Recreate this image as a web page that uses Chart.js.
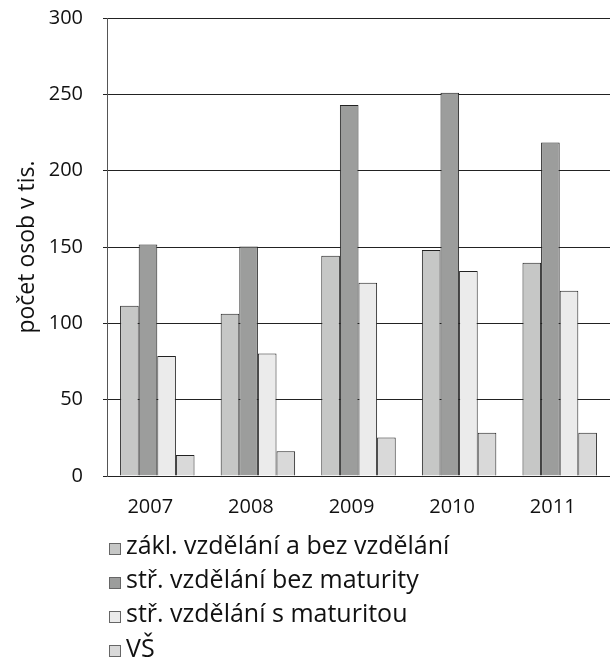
<!DOCTYPE html>
<html>
<head>
<meta charset="utf-8">
<script src="https://cdn.jsdelivr.net/npm/chart.js@4/dist/chart.umd.min.js"></script>
<style>
  html, body { margin: 0; padding: 0; background: #fff; }
  #wrap { position: relative; width: 610px; height: 659px; overflow: hidden; }
  #legend { position: absolute; left: 109px; top: 527px; font-family: "Open Sans", sans-serif; font-size: 25px; color: #111; }
  .item { height: 34.2px; line-height: 34.2px; white-space: nowrap; display: flex; align-items: center; }
  .box { width: 12px; height: 12px; border: 1px solid #666; margin-right: 5px; margin-top: 9px; box-sizing: border-box; flex: none; }
</style>
</head>
<body>
<div id="wrap">
  <canvas id="c" width="610" height="530" style="width:610px;height:530px;display:block"></canvas>
  <div id="legend"></div>
</div>
<script>
const categories = ['2007', '2008', '2009', '2010', '2011'];
const seriesNames = ['zákl. vzdělání a bez vzdělání', 'stř. vzdělání bez maturity', 'stř. vzdělání s maturitou', 'VŠ'];
const zakladni = [111.5, 106.3, 144.3, 148.0, 139.7];
const strBezMaturity = [151.7, 150.4, 243.0, 251.0, 218.5];
const strSMaturitou = [78.6, 80.3, 126.6, 134.2, 121.4];
const vs = [13.8, 16.2, 25.3, 28.4, 28.4];
const yTicks = [0, 50, 100, 150, 200, 250, 300];
const colors = ['#c6c7c6', '#9c9d9c', '#ebebeb', '#d9d9d9'];

const seriesValues = [zakladni, strBezMaturity, strSMaturitou, vs];
const FONT = '"Open Sans", sans-serif';

const chart = new Chart(document.getElementById('c'), {
  type: 'bar',
  data: {
    labels: categories,
    datasets: seriesValues.map((v, i) => ({
      label: seriesNames[i],
      data: v,
      backgroundColor: colors[i],
      borderColor: '#222',
      borderWidth: 1,
      barPercentage: 1,
      categoryPercentage: 0.74
    }))
  },
  options: {
    responsive: false,
    animation: false,
    devicePixelRatio: 1,
    layout: { padding: { top: 18, right: 0, left: 0, bottom: 0 } },
    plugins: { legend: { display: false }, tooltip: { enabled: false } },
    scales: {
      x: {
        grid: { display: false, drawTicks: false },
        border: { display: true, color: '#222', width: 1 },
        ticks: { color: '#111', font: { family: FONT, size: 20 }, padding: 19, maxRotation: 0, labelOffset: -7 },
        afterFit: s => { s.height = 54; s.paddingLeft = 0; s.paddingRight = 0; }
      },
      y: {
        min: 0, max: 300,
        afterBuildTicks: s => { s.ticks = yTicks.map(v => ({ value: v })); },
        grid: { color: '#222', lineWidth: 1, tickLength: 4, drawTicks: true },
        border: { display: true, color: '#555', width: 1 },
        ticks: { color: '#111', font: { family: FONT, size: 20 }, padding: 20 },
        title: { display: true, text: 'počet osob v tis.', color: '#111', font: { family: FONT, size: 23 }, padding: { top: 14, bottom: 0 } },
        afterFit: s => { s.width = 107; s.paddingTop = 0; s.paddingBottom = 0; }
      }
    }
  }
});

const legend = document.getElementById('legend');
chart.data.datasets.forEach(ds => {
  const row = document.createElement('div');
  row.className = 'item';
  const box = document.createElement('span');
  box.className = 'box';
  box.style.background = ds.backgroundColor;
  const txt = document.createElement('span');
  txt.textContent = ds.label;
  row.appendChild(box);
  row.appendChild(txt);
  legend.appendChild(row);
});
</script>
</body>
</html>
